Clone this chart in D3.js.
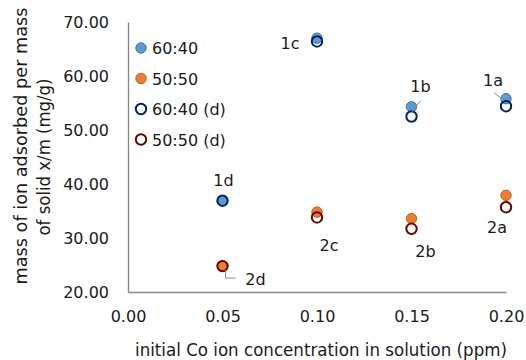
<!DOCTYPE html>
<html><head><meta charset="utf-8">
<script src="https://cdn.jsdelivr.net/npm/d3@7/dist/d3.min.js"></script>
<style>body{margin:0;background:#fff}svg{display:block}text{font-family:"DejaVu Sans",sans-serif;fill:#1a1a1a}</style>
</head><body><svg id="c" width="526" height="360"></svg>
<script>
const concentrations = [0.05, 0.10, 0.15, 0.20];
const ratio6040 = [36.9, 67.0, 54.3, 55.8];
const ratio5050 = [24.8, 34.8, 33.6, 37.9];
const ratio6040d = [36.9, 66.4, 52.5, 54.4];
const ratio5050d = [24.8, 33.8, 31.7, 35.7];
const seriesNames = ["60:40", "50:50", "60:40 (d)", "50:50 (d)"];
const yTicks = [20, 30, 40, 50, 60, 70];
const xTicks = [0.00, 0.05, 0.10, 0.15, 0.20];
const labels1 = ["1d", "1c", "1b", "1a"];
const labels2 = ["2d", "2c", "2b", "2a"];
const xTitle = "initial Co ion concentration in solution (ppm)";
const yTitle1 = "mass of ion adsorbed per mass";
const yTitle2 = "of solid x/m (mg/g)";

const styles = [
  {fill:"#5B9BD5", stroke:"#41719C", sw:1},
  {fill:"#ED7D31", stroke:"#C55A11", sw:1},
  {fill:"none", stroke:"#002060", sw:2},
  {fill:"none", stroke:"#6B0000", sw:2}
];
const allSeries = [ratio6040, ratio5050, ratio6040d, ratio5050d];

const svg = d3.select("#c");
const x = d3.scaleLinear().domain([0, 0.2]).range([128, 506]);
const y = d3.scaleLinear().domain([20, 70]).range([292, 22]);

// axes
const yAx = svg.append("g").attr("transform","translate(128,0)")
  .call(d3.axisLeft(y).tickValues(yTicks).tickFormat(d3.format(".2f")).tickSize(0).tickPadding(19));
yAx.select(".domain").attr("stroke","#868686").attr("stroke-width",1.3);
yAx.selectAll("text").attr("font-size",16).attr("font-family","DejaVu Sans").attr("fill","#1a1a1a");

const xAx = svg.append("g").attr("transform","translate(0,292)")
  .call(d3.axisBottom(x).tickValues(xTicks).tickFormat(d3.format(".2f")).tickSize(0).tickPadding(19));
xAx.select(".domain").attr("stroke","#868686").attr("stroke-width",1.3);
xAx.selectAll("text").attr("font-size",16).attr("font-family","DejaVu Sans").attr("fill","#1a1a1a");

// titles
svg.append("text").attr("x",(135+507)/2).attr("y",356).attr("text-anchor","middle")
  .attr("font-size",17).attr("textLength",372).attr("lengthAdjust","spacingAndGlyphs").text(xTitle);
svg.append("text").attr("transform","translate(27,146) rotate(-90)").attr("text-anchor","middle")
  .attr("font-size",17).attr("textLength",277).attr("lengthAdjust","spacingAndGlyphs").text(yTitle1);
svg.append("text").attr("transform","translate(50,157) rotate(-90)").attr("text-anchor","middle")
  .attr("font-size",17).attr("textLength",157).attr("lengthAdjust","spacingAndGlyphs").text(yTitle2);

// points
const r = 5.2;
allSeries.forEach((vals, si) => {
  const st = styles[si];
  svg.append("g").selectAll("circle").data(vals).join("circle")
    .attr("cx",(d,i)=>x(concentrations[i])).attr("cy",d=>y(d)).attr("r",r)
    .attr("fill",st.fill).attr("stroke",st.stroke).attr("stroke-width",st.sw);
});

// data labels (offsets relative to points)
const lab1Off = [[1,-15],[-27,11],[9,-15],[-13,-13]];
const lab2Off = [[33,19],[12,39],[14,38],[-9,38]];
const lg = svg.append("g").attr("font-size",16);
labels1.forEach((t,i)=>{
  lg.append("text").attr("x",x(concentrations[i])+lab1Off[i][0]).attr("y",y(ratio6040[i])+lab1Off[i][1])
    .attr("text-anchor","middle").text(t);
});
labels2.forEach((t,i)=>{
  lg.append("text").attr("x",x(concentrations[i])+lab2Off[i][0]).attr("y",y(ratio5050[i])+lab2Off[i][1])
    .attr("text-anchor","middle").text(t);
});
// leader lines
const leader = svg.append("g").attr("stroke","#8c8c8c").attr("stroke-width",1).attr("fill","none");
{
  const px = x(concentrations[3]), py = y(ratio6040[3]);
  leader.append("line").attr("x1",px-12).attr("y1",py-6).attr("x2",px-2).attr("y2",py+2);
  const bx = x(concentrations[2]), by = y(ratio6040[2]);
  leader.append("line").attr("x1",bx+9).attr("y1",by-6).attr("x2",bx).attr("y2",by+6);
  const dx = x(concentrations[0]), dy = y(ratio5050[0]);
  leader.append("path").attr("d",`M${dx+3},${dy+4}V${dy+12}H${dx+13}`);
}

// legend
const leg = svg.append("g");
seriesNames.forEach((n,i)=>{
  const cy = 48 + i*30.5;
  const st = styles[i];
  leg.append("circle").attr("cx",141).attr("cy",cy).attr("r",r)
    .attr("fill",st.fill==="none"?"#fff":st.fill).attr("stroke",st.stroke).attr("stroke-width",st.sw);
  leg.append("text").attr("x",152).attr("y",cy+6).attr("font-size",16).text(n);
});
</script></body></html>
